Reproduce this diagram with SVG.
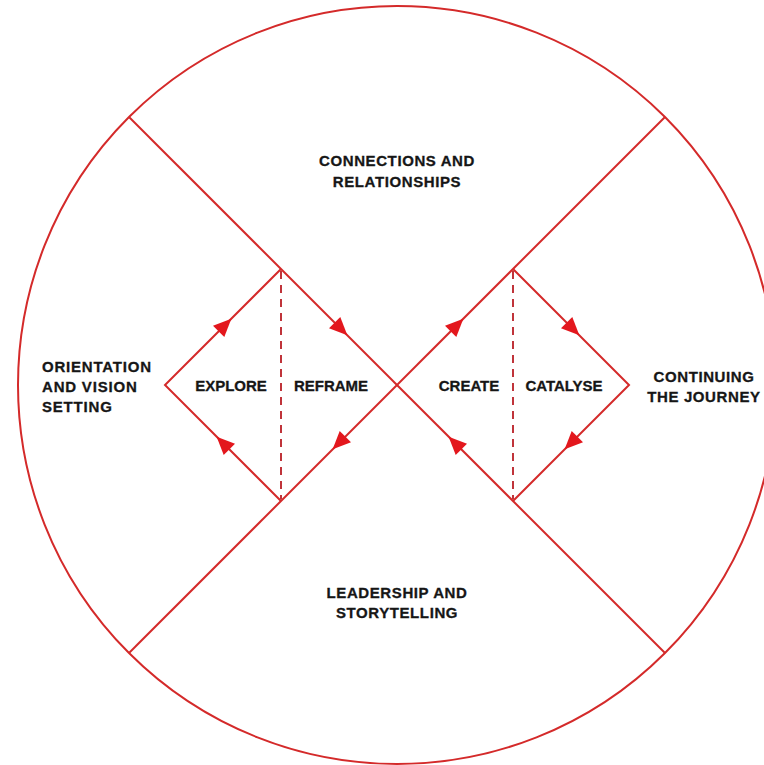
<svg xmlns="http://www.w3.org/2000/svg" width="764" height="765" viewBox="0 0 764 765">
<style>
.ln{fill:none;stroke:#d42a2a;stroke-width:2}
.dash{fill:none;stroke:#c0343a;stroke-width:2;stroke-dasharray:8 6}
.ah{fill:#e3171d}
text{font-family:"Liberation Sans",Arial,sans-serif;font-weight:bold;font-size:15px;fill:#161616;stroke:#161616;stroke-width:0.3}
.c{text-anchor:middle}
</style>
<defs>
<polygon id="tri" points="9,0 -9,-8 -9,8"/>
</defs>
<rect width="764" height="765" fill="#ffffff"/>
<g id="connectors">
<circle class="ln" cx="397" cy="385" r="379"/>
<line class="ln" x1="129" y1="117" x2="665" y2="653"/>
<line class="ln" x1="665" y1="117" x2="129" y2="653"/>
<polyline class="ln" points="281,269 165,385 281,501"/>
<polyline class="ln" points="513,269 629,385 513,501"/>
<line class="dash" x1="281" y1="271" x2="281" y2="499"/>
<line class="dash" x1="513" y1="271" x2="513" y2="499"/>
<use href="#tri" class="ah" transform="translate(223,443) rotate(-135)"/>
<use href="#tri" class="ah" transform="translate(225,325) rotate(-45)"/>
<use href="#tri" class="ah" transform="translate(341,329) rotate(45)"/>
<use href="#tri" class="ah" transform="translate(339,443) rotate(135)"/>
<use href="#tri" class="ah" transform="translate(455,443) rotate(-135)"/>
<use href="#tri" class="ah" transform="translate(457,325) rotate(-45)"/>
<use href="#tri" class="ah" transform="translate(573,329) rotate(45)"/>
<use href="#tri" class="ah" transform="translate(571,443) rotate(135)"/>
</g>
<g id="connections"><text class="c" x="397" y="166" letter-spacing="0.6">CONNECTIONS AND</text><text class="c" x="397" y="187" letter-spacing="0.6">RELATIONSHIPS</text></g>
<g id="orientation"><text x="42" y="372" letter-spacing="0.8">ORIENTATION</text><text x="42" y="392" letter-spacing="0.8">AND VISION</text><text x="42" y="412" letter-spacing="0.8">SETTING</text></g>
<g id="explore"><text class="c" x="231" y="391">EXPLORE</text></g>
<g id="reframe"><text class="c" x="331" y="391">REFRAME</text></g>
<g id="create"><text class="c" x="469" y="391">CREATE</text></g>
<g id="catalyse"><text class="c" x="564" y="391">CATALYSE</text></g>
<g id="continuing"><text class="c" x="704" y="382" letter-spacing="0.6">CONTINUING</text><text class="c" x="704" y="402" letter-spacing="0.6">THE JOURNEY</text></g>
<g id="leadership"><text class="c" x="397" y="598" letter-spacing="0.6">LEADERSHIP AND</text><text class="c" x="397" y="618" letter-spacing="0.6">STORYTELLING</text></g>
</svg>
